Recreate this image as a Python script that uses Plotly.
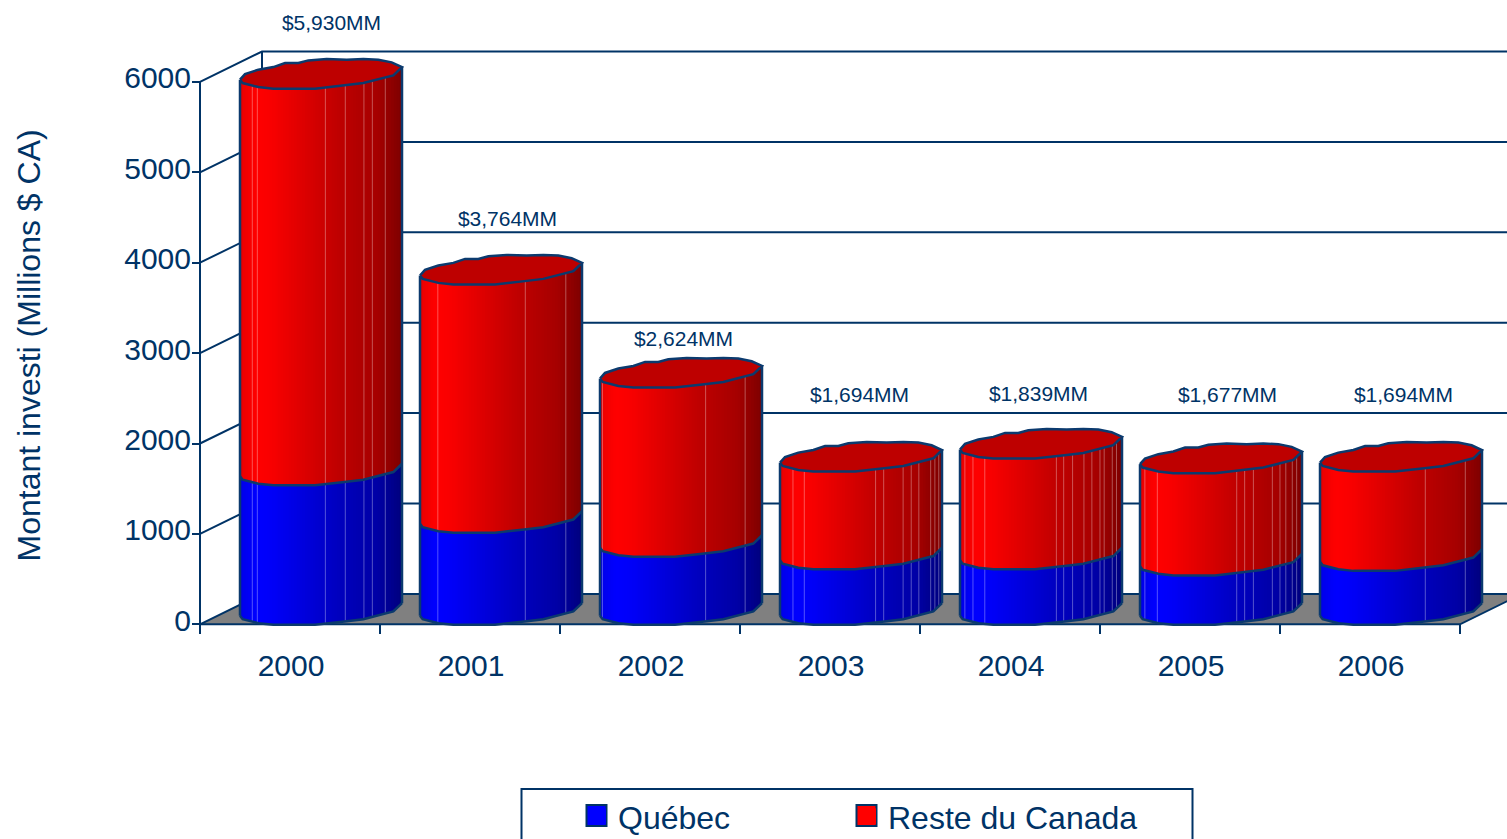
import numpy as np
import plotly.graph_objects as go

# ---- data ----
years = ["2000", "2001", "2002", "2003", "2004", "2005", "2006"]
quebec = [1542, 1017, 751, 613, 613, 546, 596]
total = [5930, 3764, 2624, 1694, 1839, 1677, 1694]
y_ticks = [0, 1000, 2000, 3000, 4000, 5000, 6000]

# ---- styling ----
W, H = 1507, 839
INK = "#003366"
EDGE = "#0B3A6E"
FONT = "Liberation Sans, Arial, sans-serif"
PX_PER_UNIT_Y = 0.0904
ZERO_PX = 624.3
PX_PER_CAT = 180.0
CAT0_PX = 290.0
DX = 62 / PX_PER_CAT          # depth of the box, category units
DY = 30.4 / PX_PER_UNIT_Y     # depth of the box, value units
BASE = 14.85 / PX_PER_UNIT_Y  # cylinders stand mid-way across the floor
HALF_W = 81 / PX_PER_CAT      # cylinder half width
N_STRIPS = 60
# outline of the slightly irregular cylinder section: position across the width (-1..1)
# and height in pixels relative to the section centre
LOW_U = np.array([-1, -.967, -.774, -.588, -.074, .070, .317, .523, .728, .893, 1])
LOW_PX = np.array([-6.3, -9.7, -13.7, -15.3, -15.3, -13.7, -11.7, -9.7, -5.3, -2, 6.3])
UP_U = np.array([-1, -.938, -.774, -.588, -.444, -.280, -.156, .070, .317, .523, .708, .872, 1])
UP_PX = np.array([-6.3, -0.7, 3.7, 6.3, 10.3, 10.3, 13, 14.3, 13.7, 14.3, 13.7, 11, 6.3])
# facet line positions across each cylinder (fractions of its width)
FACETS = [
    [.076, .107, .527, .65, .765, .817, .897],
    [.11, .65, .90],
    [.015, .652, .896],
    [.08, .15, .59, .64, .76, .81, .857, .93, .956, .98],
    [.03, .08, .153, .595, .64, .695, .765, .814, .864, .89, .94, .966],
    [.03, .107, .597, .646, .70, .817, .864, .90, .94, .967],
    [.65, .897],
]
# value label placement (pixels on the page, as in the source chart)
LABEL_X_PX = [331.5, 507.5, 683.5, 859.5, 1038.5, 1227.5, 1403.5]
LABEL_Y_PX = [25, 221, 341, 397, 396, 397, 397]

x_range = [-CAT0_PX / PX_PER_CAT, (W - CAT0_PX) / PX_PER_CAT]
y_range = [(ZERO_PX - H) / PX_PER_UNIT_Y, ZERO_PX / PX_PER_UNIT_Y]
px2x = lambda p: (p - CAT0_PX) / PX_PER_CAT
px2y = lambda p: (ZERO_PX - p) / PX_PER_UNIT_Y
x_left, x_right = -0.5, len(years) - 0.5  # front edge of the floor


def shade(u, chan):
    stops_u = [0, .03, .10, .18, .60, .85, 1]
    stops_v = [225, 240, 255, 250, 192, 165, 125]
    v = int(round(np.interp(u, stops_u, stops_v)))
    return f"rgb({v},0,0)" if chan == "r" else f"rgb(0,0,{v})"


def front_arc(cx, level, xs):
    """Lower edge of the section at height `level`."""
    u = np.clip((np.asarray(xs) - cx) / HALF_W, -1, 1)
    return level + BASE + np.interp(u, LOW_U, LOW_PX) / PX_PER_UNIT_Y


fig = go.Figure()

# floor
fig.add_trace(go.Scatter(
    x=[x_left, x_right, x_right + DX, x_left + DX, x_left],
    y=[0, 0, DY, DY, 0], mode="none", fill="toself", fillcolor="#808080",
    showlegend=False, hoverinfo="skip"))

# walls: back grid lines, side-wall lines, verticals
gx, gy = [], []
for v in y_ticks:
    gx += [x_left, x_left + DX, x_right + DX, None]
    gy += [v, v + DY, v + DY, None]
gx += [x_left, x_left, None, x_left + DX, x_left + DX, None, x_left, x_right, x_right + DX]
gy += [0, y_ticks[-1], None, DY, y_ticks[-1] + DY, None, 0, 0, DY]
fig.add_trace(go.Scatter(x=gx, y=gy, mode="lines", line=dict(color=INK, width=2),
                         showlegend=False, hoverinfo="skip"))

# cylinder sides, one trace for each shading strip
edges = np.linspace(-1, 1, N_STRIPS + 1)
overlap = 1.0 / PX_PER_CAT
for name, low, high, chan in [("q", [0] * len(years), quebec, "b"), ("r", quebec, total, "r")]:
    for s in range(N_STRIPS):
        u = (s + .5) / N_STRIPS
        px_, py_ = [], []
        for i in range(len(years)):
            cx = i + DX / 2
            x0 = cx + edges[s] * HALF_W
            x1 = min(cx + edges[s + 1] * HALF_W + overlap, cx + HALF_W)
            xs = np.linspace(x0, x1, 4)
            bot = front_arc(cx, low[i], xs)
            top = front_arc(cx, high[i], xs)
            px_ += list(xs) + list(xs[::-1]) + [xs[0], None]
            py_ += list(bot) + list(top[::-1]) + [bot[0], None]
        fig.add_trace(go.Scatter(x=px_, y=py_, mode="none", fill="toself",
                                 fillcolor=shade(u, chan), showlegend=False, hoverinfo="skip"))

# facet lines
fx, fy = [], []
for i in range(len(years)):
    cx = i + DX / 2
    for f in FACETS[i]:
        xf = cx - HALF_W + 2 * HALF_W * f
        fx += [xf, xf, None]
        fy += [float(front_arc(cx, 0, [xf])[0]), float(front_arc(cx, total[i], [xf])[0]), None]
fig.add_trace(go.Scatter(x=fx, y=fy, mode="lines",
                         line=dict(color="rgba(255,255,255,0.33)", width=1),
                         showlegend=False, hoverinfo="skip"))

# top caps
cap_x, cap_y = [], []
for i in range(len(years)):
    cx = i + DX / 2
    level = total[i] + BASE
    cap_x += list(cx + HALF_W * LOW_U) + list(cx + HALF_W * UP_U[::-1]) + [None]
    cap_y += list(level + LOW_PX / PX_PER_UNIT_Y) + list(level + UP_PX[::-1] / PX_PER_UNIT_Y) + [None]
fig.add_trace(go.Scatter(x=cap_x, y=cap_y, mode="lines", fill="toself", fillcolor="#BE0000",
                         line=dict(color=EDGE, width=2.5), showlegend=False, hoverinfo="skip"))

# outlines
ox, oy = [], []
for i in range(len(years)):
    cx = i + DX / 2
    xs = cx + HALF_W * LOW_U
    for level in (0, quebec[i]):
        ox += list(xs) + [None]
        oy += list(front_arc(cx, level, xs)) + [None]
    for side in (-1, 1):
        xe = cx + side * HALF_W
        ox += [xe, xe, None]
        oy += [float(front_arc(cx, 0, [xe])[0]), float(front_arc(cx, total[i], [xe])[0]), None]
fig.add_trace(go.Scatter(x=ox, y=oy, mode="lines", line=dict(color=EDGE, width=2.5),
                         showlegend=False, hoverinfo="skip"))

# value labels
fig.add_trace(go.Scatter(
    x=[px2x(p) for p in LABEL_X_PX], y=[px2y(p) for p in LABEL_Y_PX],
    mode="text", text=[f"${v:,}MM" for v in total], textposition="middle center",
    textfont=dict(family=FONT, size=21, color=INK), showlegend=False, hoverinfo="skip"))

# legend entries
for nm, col, lg in [("Québec", "#0000FF", "legend"), ("Reste du Canada", "#FF0000", "legend2")]:
    fig.add_trace(go.Scatter(x=[None], y=[None], mode="markers", name=nm, legend=lg,
                             marker=dict(symbol="square", size=16, color=col)))

# second x axis carries the tick marks between the categories
fig.add_trace(go.Scatter(x=[None], y=[None], xaxis="x2", showlegend=False, hoverinfo="skip"))


def legend_at(px):
    return dict(x=px / W, xanchor="left", y=1 - 789 / H, yanchor="top", bgcolor="rgba(0,0,0,0)",
                font=dict(size=32, color=INK, family=FONT))


def swatch(x0, col):
    return dict(type="rect", xref="paper", yref="paper", x0=x0 / W, x1=(x0 + 20) / W,
                y0=1 - 826 / H, y1=1 - 805 / H, fillcolor=col, line=dict(color=INK, width=2))


axis_pos = (H - ZERO_PX) / H
fig.update_layout(
    width=W, height=H, margin=dict(l=0, r=0, t=0, b=0, autoexpand=False),
    paper_bgcolor="white", plot_bgcolor="white", font=dict(family=FONT, color=INK),
    xaxis=dict(range=x_range, domain=[0, 1], anchor="free", position=axis_pos,
               tickmode="array", tickvals=list(range(len(years))), ticktext=years,
               ticks="", tickfont=dict(size=30, color=INK, family=FONT), ticklabelshift=1,
               ticklabelstandoff=21, showgrid=False, zeroline=False, showline=False),
    xaxis2=dict(range=x_range, overlaying="x", anchor="free", position=axis_pos,
                tickmode="array", tickvals=[x_left + k for k in range(len(years) + 1)],
                ticktext=[""] * (len(years) + 1), ticks="outside", ticklen=9, tickwidth=2,
                tickcolor=INK, showgrid=False, zeroline=False, showline=False),
    yaxis=dict(range=y_range, domain=[0, 1], anchor="free", position=200 / W,
               tickmode="array", tickvals=y_ticks, ticks="outside", ticklen=8, tickwidth=2,
               tickcolor=INK, tickfont=dict(size=30, color=INK, family=FONT),
               ticklabelshift=-4, ticklabelstandoff=-5,
               showgrid=False, zeroline=False, showline=False),
    legend=legend_at(578),
    legend2=legend_at(848),
    shapes=[dict(type="rect", xref="paper", yref="paper",
                 x0=521.5 / W, x1=1192.5 / W, y0=-0.1, y1=1 - 789 / H,
                 line=dict(color=INK, width=2), fillcolor="rgba(0,0,0,0)"),
            swatch(586.5, "#0000FF"), swatch(856.5, "#FF0000")],
    annotations=[dict(text="Montant investi (Millions $ CA)", xref="paper", yref="paper",
                      x=28 / W, y=1 - 345.5 / H, showarrow=False, textangle=-90,
                      font=dict(size=32, color=INK, family=FONT),
                      xanchor="center", yanchor="middle")],
)

fig.write_html("out.html", config=dict(displayModeBar=False),
               post_script="document.body.style.margin='0';document.body.style.overflow='hidden';")
